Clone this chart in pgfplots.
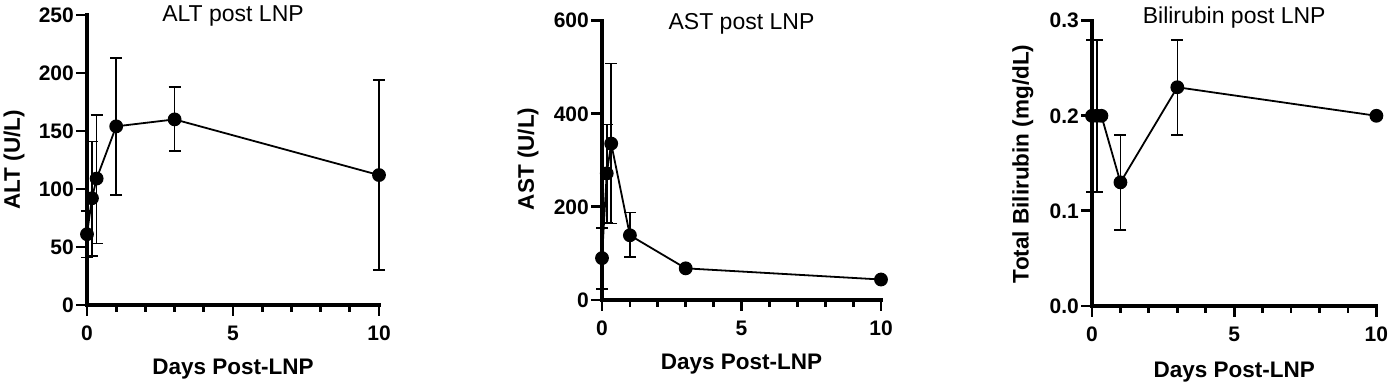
\documentclass[border=0pt]{standalone}
\usepackage{pgfplots}
\pgfplotsset{compat=1.18}
\usepackage{fontspec}
\setmainfont{Liberation Sans}
\begin{document}
\begin{tikzpicture}
\useasboundingbox (0pt,0pt) rectangle (1392pt,387pt);
\pgfplotsset{
 gp/.style={
  scale only axis,
  axis x line*=bottom, axis y line*=left,
  x axis line style={line width=3.2pt, black, line cap=rect},
  y axis line style={line width=3.2pt, black, line cap=rect},
  tick style={line width=2.8pt, black},
  tick align=outside,
  major tick length=11pt, minor tick length=7pt,
  xmin=0, xmax=10, xtick={0,5,10}, minor xtick={1,2,3,4,6,7,8,9},
  ytick pos=left, xtick pos=bottom,
  clip=false,
  /pgf/number format/assume math mode=true,
  tick label style={font=\fontsize{21}{25}\selectfont\bfseries},
  yticklabel style={inner sep=2pt},
  xticklabel style={inner sep=2pt, yshift=-8pt},
  xlabel={Days Post-LNP},
  xlabel style={anchor=base, font=\fontsize{22.5}{27}\selectfont\bfseries},
  ylabel style={anchor=center, font=\fontsize{22.5}{27}\selectfont\bfseries},
  title style={anchor=base, yshift=-6pt, font=\fontsize{23}{27}\selectfont},
 },
 gpline/.style={black, line width=1.8pt, mark=*, mark size=6pt,
   mark options={solid, fill=black},
   error bars/.cd, y dir=both, y explicit,
   error bar style={line width=1.6pt, black},
   error mark options={rotate=90, mark size=6pt, line width=1.6pt, black}},
}
% ALT
\begin{axis}[gp, at={(87pt,82pt)}, anchor=south west, width=292pt, height=290pt,
  ymin=0, ymax=250, ytick={0,50,...,250},
  ylabel={ALT (U/L)}, title={ALT post LNP},
  xlabel style={at={(axis description cs:0.5,-0.241)}},
  ylabel style={at={(axis description cs:-0.25,0.5)}},
  title style={at={(axis description cs:0.5,0.977)}}]
\addplot+[gpline] table[x=x, y=y, y error plus=ep, y error minus=em] {
x y ep em
0 61 20 20
0.17 92 49 50
0.33 109 55 56
1 154 59 59
3 160 28 27
10 112 82 82
};
\end{axis}
% AST
\begin{axis}[gp, at={(602pt,87pt)}, anchor=south west, width=279pt, height=279.3pt,
  ymin=0, ymax=600, ytick={0,200,400,600},
  ylabel={AST (U/L)}, title={AST post LNP},
  xlabel style={at={(axis description cs:0.5,-0.25)}},
  ylabel style={at={(axis description cs:-0.265,0.505)}},
  title style={at={(axis description cs:0.5,0.967)}}]
\addplot+[gpline] table[x=x, y=y, y error plus=ep, y error minus=em] {
x y ep em
0 90 65 67
0.17 272 105 107
0.33 336 172 172
1 139 49 47
3 68 0 0
10 44 0 0
};
\end{axis}
% Bilirubin
\begin{axis}[gp, at={(1092pt,81pt)}, anchor=south west, width=284.4pt, height=285.3pt,
  ymin=0, ymax=0.3, ytick={0,0.1,0.2,0.3},
  yticklabel style={/pgf/number format/.cd, fixed, fixed zerofill, precision=1},
  ylabel={Total Bilirubin (mg/dL)}, title={Bilirubin post LNP},
  xlabel style={at={(axis description cs:0.5,-0.252)}},
  ylabel style={at={(axis description cs:-0.243,0.498)}},
  title style={at={(axis description cs:0.5,0.991)}}]
\addplot+[gpline] table[x=x, y=y, y error plus=ep, y error minus=em] {
x y ep em
0 0.2 0.08 0.08
0.17 0.2 0.08 0.08
0.33 0.2 0 0
1 0.13 0.05 0.05
3 0.23 0.05 0.05
10 0.2 0 0
};
\end{axis}
\end{tikzpicture}
\end{document}
